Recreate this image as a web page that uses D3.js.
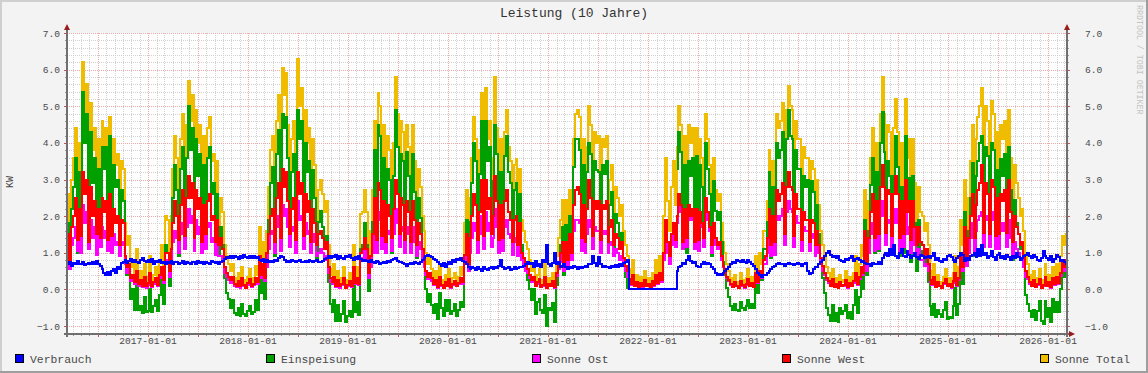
<!DOCTYPE html>
<html><head><meta charset="utf-8">
<script src="https://cdn.jsdelivr.net/npm/d3@7"></script>
<style>
html,body{margin:0;padding:0;background:#f3f3f3;}
svg{display:block;}
text{font-family:"Liberation Mono","DejaVu Sans Mono",monospace;}
</style></head><body>
<svg id="chart" width="1148" height="373"></svg>
<script>
// ---------------- data ----------------
const title = "Leistung (10 Jahre)";
const yLabel = "KW";
const watermark = "RRDTOOL / TOBI OETIKER";
const seriesNames = ["Verbrauch", "Einspeisung", "Sonne Ost", "Sonne West", "Sonne Total"];
const seriesColors = ["#0000ff", "#00a000", "#ff00ff", "#ff0000", "#f0bc00"];
const startDate = "2016-03-11";
const endDate = "2026-03-11";
const stepDays = 7;
const yTickValues = [-1, 0, 1, 2, 3, 4, 5, 6, 7];
const xLabelDates = ["2017-01-01","2018-01-01","2019-01-01","2020-01-01","2021-01-01","2022-01-01","2023-01-01","2024-01-01","2025-01-01","2026-01-01"];

// weekly values (kW), one line per year starting mid-March
const verbrauch = [
0.7,0.75,0.65,0.72,0.7,0.78,0.68,0.7,0.74,0.66,0.7,0.72,0.68,0.75,0.7,0.78,0.7,0.64,0.55,0.45,0.4,0.48,0.38,0.5,0.55,0.45,0.6,0.55,0.73,0.75,0.8,0.72,0.78,0.82,0.74,0.8,0.76,0.72,0.8,0.85,0.78,0.74,0.8,0.76,0.82,0.7,0.78,0.75,0.8,0.72,0.76,0.7,
0.75,0.72,0.78,0.7,0.74,0.76,0.7,0.73,0.78,0.7,0.75,0.72,0.7,0.76,0.74,0.7,0.78,0.72,0.75,0.7,0.76,0.73,0.7,0.78,0.74,0.72,0.76,0.7,0.75,0.78,0.82,0.88,0.85,0.9,0.86,0.92,0.88,0.84,0.9,0.86,0.93,0.88,0.85,0.9,0.87,0.92,0.86,0.88,0.8,0.78,0.82,0.76,
0.8,0.76,0.78,0.75,0.8,0.77,0.85,0.9,0.88,0.8,0.76,0.78,0.75,0.8,0.77,0.74,0.78,0.8,0.76,0.75,0.78,0.74,0.8,0.77,0.75,0.78,0.8,0.76,0.74,0.78,0.82,0.85,0.9,0.86,0.92,0.88,0.95,0.84,0.9,0.86,0.82,0.9,0.88,0.93,0.85,0.8,0.88,0.84,0.9,0.82,0.78,0.8,
0.78,0.75,0.8,0.74,0.72,0.78,0.75,0.7,0.73,0.76,0.72,0.78,0.74,0.8,0.82,0.85,0.78,0.74,0.76,0.72,0.7,0.65,0.68,0.72,0.7,0.75,0.73,0.7,0.76,0.8,0.85,0.9,0.95,0.92,0.88,0.84,0.8,0.76,0.7,0.65,0.72,0.6,0.68,0.75,0.7,0.8,0.76,0.82,0.8,0.85,0.78,0.75,
0.7,0.62,0.55,0.6,0.58,0.52,0.6,0.55,0.5,0.6,0.55,0.52,0.58,0.62,0.55,0.6,0.58,0.65,0.8,0.6,0.55,0.58,0.6,0.52,0.56,0.6,0.55,0.58,0.62,0.6,0.65,0.7,0.75,0.68,0.72,0.6,0.78,0.65,0.7,0.62,0.8,0.75,1.2,0.7,0.65,0.72,1.0,0.68,0.75,0.6,0.65,0.7,
0.6,0.55,0.62,0.58,0.65,0.6,0.55,0.62,0.58,0.6,0.65,0.62,0.7,0.68,0.9,0.72,0.65,0.88,0.7,0.62,0.65,0.6,0.62,0.58,0.64,0.6,0.66,0.62,0.7,0.65,0.72,0.75,0.8,0,0,0,0,0,0,0,0,0,0,0,0,0,0,0,0,0,0,0,
0,0,0,0,0,0,0.5,0.6,0.65,0.72,0.7,0.8,0.9,0.78,0.72,0.75,0.65,0.6,0.62,0.7,0.75,0.68,0.72,0.7,0.62,0.55,0.45,0.4,0.42,0.38,0.45,0.5,0.55,0.6,0.7,0.75,0.72,0.8,0.78,0.74,0.8,0.76,0.72,0.8,0.75,0.7,0.65,0.55,0.45,0.4,0.35,0.38,
0.4,0.45,0.5,0.55,0.6,0.65,0.7,0.72,0.68,0.7,0.65,0.7,0.72,0.68,0.7,0.66,0.7,0.72,0.68,0.65,0.7,0.72,0.5,0.42,0.45,0.55,0.6,0.62,0.7,0.75,0.8,0.9,1.0,1.05,0.95,0.88,0.92,0.85,0.9,0.8,0.78,0.75,0.82,0.8,0.86,0.9,0.78,0.82,0.85,0.8,0.75,0.78,
0.72,0.68,0.7,0.65,0.72,0.7,0.68,0.74,0.7,0.85,0.95,1.0,0.9,1.1,0.95,1.2,0.9,0.85,1.0,1.1,0.92,0.88,1.05,0.95,0.85,0.9,1.0,0.88,0.82,0.95,0.9,0.85,0.88,0.92,0.85,0.9,1.0,0.8,0.85,0.78,0.75,0.82,0.8,0.9,0.95,0.88,0.8,0.76,0.85,0.9,1.0,0.95,
0.78,0.85,0.8,0.9,0.95,1.0,0.88,1.1,0.92,1.2,0.95,1.0,0.85,0.9,1.05,0.88,0.8,0.95,1.0,0.85,0.9,0.82,0.95,0.88,0.8,0.92,0.85,1.0,0.88,0.8,0.85,0.9,0.95,1.0,0.9,0.85,0.95,0.88,0.8,0.78,0.85,1.05,0.92,0.85,0.8,0.9,0.75,0.82,0.95,0.88,0.78,0.8,
0.75,0.7
];

const einspeisung = [
1.8,0.55,2.2,2.8,3.6,1.0,3.2,1.0,5.4,4.0,4.8,1.5,4.3,2.9,3.6,1.1,3.3,1.15,3.9,3.3,3.9,1.4,4.2,1.2,3.4,2.8,3.0,1.05,2.7,2.4,0.9,0.4,0.6,-0.25,0.0,-0.55,0.2,-0.55,-0.45,-0.65,-0.2,-0.62,-0.6,0.0,-0.62,-0.45,-0.3,-0.6,-0.15,0.35,-0.4,1.2,
1.0,0.1,1.1,2.5,3.4,2.7,0.9,3.3,3.9,1.4,3.6,5.0,3.8,4.4,1.45,4.1,3.1,3.7,1.15,3.4,1.25,3.6,3.9,2.6,2.9,1.0,2.6,0.9,1.7,1.2,0.3,-0.1,-0.25,-0.5,-0.3,-0.65,-0.7,-0.5,-0.73,-0.4,-0.68,-0.72,-0.6,-0.45,-0.66,-0.62,-0.3,-0.55,0.8,-0.1,0.4,-0.25,
0.7,1.9,2.9,3.35,0.9,3.7,4.35,1.1,4.8,4.4,4.7,3.6,1.75,3.2,3.7,1.25,4.9,4.1,4.6,1.55,4.0,3.2,3.5,1.15,3.25,2.5,0.8,1.85,2.15,1.7,1.2,1.45,0.2,-0.4,-0.62,-0.28,-0.85,-0.44,-0.85,-0.66,-0.32,-0.9,-0.73,-0.58,-0.75,0.3,-0.63,-0.34,-0.7,1.1,1.2,1.8,
1.2,-0.05,0.7,1.85,3.8,1.0,4.5,4.2,1.25,3.6,1.05,3.3,3.0,1.0,3.1,4.9,3.9,1.45,3.7,3.5,1.2,3.75,3.1,1.1,3.7,2.65,0.85,2.5,1.95,1.1,0.65,0.0,-0.35,-0.12,-0.43,-0.64,-0.4,-0.8,-0.1,-0.5,-0.72,-0.3,-0.58,-0.3,-0.68,-0.6,-0.41,-0.72,-0.55,-0.35,-0.48,0.95,
1.9,0.6,1.85,2.9,4.0,3.5,1.1,3.15,4.6,1.6,4.6,3.5,3.9,1.7,2.95,4.5,3.7,1.15,3.2,1.3,3.65,4.2,3.2,2.9,1.05,2.7,2.9,1.0,2.6,1.2,0.85,0.5,0.25,0.0,-0.3,0.0,-0.68,-0.35,-0.25,-0.57,-0.65,-0.15,-1.0,-0.5,-0.55,-0.37,-0.9,0.12,0.55,1.2,1.7,0.4,
1.75,0.85,2.0,1.2,3.35,4.1,4.1,3.8,1.3,3.4,1.05,3.2,4.0,3.7,1.1,3.5,3.25,3.2,1.2,3.4,3.15,3.5,1.2,2.3,2.65,1.0,2.05,1.8,1.2,1.55,0.8,0.35,0.0,null,null,null,null,null,null,null,null,null,null,null,null,null,null,null,null,null,null,null,
null,null,null,null,null,null,3.3,4.3,3.75,1.3,3.4,1.0,3.5,3.1,3.6,1.15,3.65,1.2,3.4,2.8,1.25,4.0,3.3,2.6,0.9,2.95,2.15,1.9,2.1,1.3,0.75,0.4,0.05,-0.2,-0.45,-0.55,-0.4,-0.55,-0.58,-0.35,-0.5,-0.56,-0.45,-0.3,-0.5,-0.4,-0.5,0.2,-0.1,0.5,0.25,1.1,
1.1,1.85,3.2,0.85,2.8,0.95,4.0,3.6,3.8,4.3,1.75,4.1,4.9,4.2,4.1,1.65,3.8,3.3,3.3,1.15,3.1,2.8,3.0,1.4,2.95,2.65,0.9,2.3,1.5,0.75,0.3,-0.1,-0.5,-0.7,-0.85,-0.43,-0.87,-0.65,-0.9,-0.5,-0.68,-0.6,-0.42,-0.78,-0.61,-0.8,-0.43,-0.02,-0.65,-0.2,0.35,0.0,
1.9,0.4,1.6,2.85,3.6,1.0,3.2,1.05,4.0,4.85,3.75,1.2,3.5,3.1,0.95,3.1,4.2,3.35,0.9,2.8,1.0,4.2,2.45,3.05,0.75,3.1,1.8,0.5,1.9,1.05,1.0,0.65,0.8,0.2,-0.45,-0.7,-0.4,-0.75,-0.55,-0.68,-0.75,-0.57,-0.35,-0.8,-0.75,-0.78,-0.45,0.04,-0.7,-0.4,0.8,0.15,
2.1,0.65,1.6,2.5,3.45,0.9,3.1,3.5,4.0,4.2,1.35,3.9,3.65,1.4,4.0,3.8,1.2,3.25,1.1,3.55,3.1,3.7,1.25,3.9,2.7,0.8,2.45,1.8,1.5,1.1,1.25,0.6,-0.15,-0.4,-0.6,-0.75,-0.55,-0.83,-0.6,-0.33,-0.85,-0.95,-0.32,-0.75,-0.5,-0.88,-0.25,-0.62,-0.35,-0.63,0.02,0.55,
0.35,0.7
];

const sonneOst = [
1.0,0.55,1.2,1.4,1.7,1.05,1.5,1.0,2.3,1.8,2.1,1.1,1.9,1.4,1.7,0.95,1.5,1.15,1.7,1.4,1.6,1.05,1.8,1.0,1.5,1.2,1.3,0.9,1.3,1.2,0.7,0.45,0.55,0.22,0.3,0.15,0.4,0.1,0.18,0.07,0.25,0.05,0.12,0.32,0.07,0.15,0.22,0.09,0.3,0.45,0.18,0.75,
0.8,0.35,0.8,1.3,1.6,1.4,1.0,1.5,1.8,1.1,1.7,2.2,1.8,2.0,1.05,1.9,1.5,1.7,1.0,1.6,1.1,1.7,1.8,1.3,1.4,0.95,1.3,0.9,0.9,0.8,0.45,0.35,0.25,0.18,0.25,0.1,0.07,0.16,0.05,0.22,0.09,0.04,0.13,0.2,0.07,0.11,0.24,0.15,0.65,0.3,0.5,0.22,
0.6,1.1,1.5,1.6,1.0,1.7,2.0,1.05,2.3,2.0,2.2,1.7,1.15,1.6,1.7,1.0,2.4,1.9,2.0,1.1,1.8,1.5,1.6,1.0,1.5,1.3,0.9,1.0,1.1,1.0,0.8,0.9,0.45,0.2,0.15,0.28,0.07,0.2,0.05,0.12,0.24,0.04,0.1,0.18,0.07,0.5,0.14,0.24,0.12,0.85,0.85,1.1,
0.8,0.3,0.6,1.0,1.8,1.0,2.1,1.9,1.1,1.7,1.0,1.6,1.5,1.05,1.5,2.2,1.8,1.15,1.7,1.6,1.0,1.7,1.5,1.0,1.7,1.3,0.9,1.3,1.1,0.8,0.6,0.4,0.28,0.35,0.22,0.12,0.2,0.05,0.28,0.1,0.04,0.16,0.08,0.22,0.05,0.12,0.18,0.08,0.14,0.24,0.16,0.7,
1.1,0.5,1.0,1.4,1.8,1.6,1.0,1.5,2.0,1.1,2.1,1.6,1.8,1.15,1.4,2.2,1.7,1.0,1.6,1.05,1.7,1.9,1.5,1.4,0.95,1.3,1.4,0.9,1.3,0.8,0.65,0.5,0.45,0.32,0.2,0.28,0.08,0.16,0.22,0.06,0.1,0.28,0.04,0.12,0.08,0.18,0.05,0.36,0.55,0.75,1.0,0.5,
1.0,0.6,1.1,0.8,1.6,1.9,1.9,1.8,1.05,1.6,1.0,1.5,1.9,1.7,1.1,1.7,1.6,1.6,1.0,1.6,1.5,1.6,1.0,1.2,1.3,0.9,1.1,1.0,0.8,0.9,0.65,0.5,0.35,0.2,0.12,0.32,0.08,0.16,0.04,0.14,0.06,0.2,0.08,0.12,0.05,0.18,0.1,0.32,0.14,0.36,0.2,0.8,
1.5,1.0,0.7,1.2,1.6,1.15,1.8,2.3,2.1,1.1,1.9,1.15,2.1,1.9,2.0,1.1,2.0,1.05,1.9,1.7,1.15,2.2,1.9,1.6,1.0,1.7,1.2,1.1,1.2,0.8,0.6,0.45,0.3,0.22,0.13,0.06,0.18,0.08,0.04,0.2,0.1,0.05,0.13,0.24,0.08,0.15,0.06,0.4,0.18,0.45,0.3,0.7,
0.7,1.0,1.6,0.9,1.5,0.95,2.0,1.9,2.0,2.2,1.2,2.1,2.4,2.2,2.1,1.15,2.0,1.8,1.8,1.05,1.7,1.6,1.6,1.05,1.5,1.4,0.9,1.3,1.0,0.7,0.5,0.4,0.25,0.18,0.08,0.22,0.06,0.12,0.04,0.16,0.08,0.1,0.2,0.05,0.14,0.08,0.18,0.36,0.12,0.28,0.5,0.38,
1.1,0.5,1.0,1.5,1.8,1.05,1.7,1.1,2.0,2.4,2.0,1.2,1.9,1.8,1.1,1.8,2.2,1.8,1.05,1.7,1.15,2.2,1.5,1.7,1.0,1.7,1.2,0.9,1.1,0.8,0.8,0.65,0.7,0.5,0.2,0.12,0.28,0.06,0.16,0.08,0.04,0.14,0.22,0.08,0.12,0.05,0.18,0.36,0.1,0.25,0.8,0.5,
1.2,0.65,1.0,1.4,1.8,1.05,1.6,1.9,2.0,2.1,1.15,2.0,1.9,1.15,2.1,1.9,1.1,1.7,1.1,1.8,1.6,1.8,1.15,1.9,1.4,0.95,1.3,1.1,1.0,0.8,0.85,0.6,0.35,0.28,0.16,0.08,0.2,0.06,0.12,0.22,0.04,0.1,0.28,0.08,0.16,0.05,0.24,0.12,0.28,0.14,0.36,0.6,
0.5,0.6
];

const sonneWest = [
1.5,0.8,1.7,2.0,2.5,1.35,2.2,1.45,3.2,2.6,3.0,1.3,2.8,2.0,2.4,1.5,2.2,1.4,2.5,2.1,2.4,1.35,2.6,1.45,2.2,1.8,2.0,1.2,1.9,1.8,0.9,0.6,0.7,0.3,0.4,0.2,0.5,0.15,0.25,0.1,0.35,0.08,0.18,0.45,0.1,0.2,0.3,0.12,0.4,0.6,0.25,1.0,
1.0,0.5,1.1,1.8,2.4,2.0,1.35,2.3,2.7,1.45,2.5,3.1,2.5,2.9,1.4,2.7,2.2,2.5,1.3,2.3,1.5,2.4,2.6,1.9,2.0,1.3,1.9,1.2,1.4,1.1,0.6,0.45,0.35,0.25,0.35,0.15,0.1,0.22,0.08,0.3,0.12,0.05,0.18,0.28,0.1,0.15,0.32,0.2,0.9,0.4,0.7,0.3,
1.0,1.5,2.0,2.2,1.3,2.5,2.9,1.4,3.3,2.8,3.2,2.4,1.5,2.2,2.5,1.35,3.2,2.6,2.9,1.45,2.6,2.1,2.4,1.3,2.2,1.8,1.2,1.5,1.6,1.4,1.1,1.3,0.6,0.3,0.2,0.35,0.1,0.25,0.08,0.15,0.3,0.05,0.12,0.22,0.1,0.6,0.18,0.3,0.15,1.0,1.1,1.4,
1.1,0.45,0.9,1.5,2.5,1.35,2.9,2.7,1.45,2.4,1.3,2.3,2.0,1.4,2.2,3.0,2.6,1.5,2.5,2.3,1.35,2.4,2.1,1.3,2.4,1.9,1.2,1.8,1.5,1.1,0.85,0.5,0.35,0.45,0.3,0.15,0.25,0.07,0.35,0.12,0.05,0.2,0.1,0.28,0.06,0.15,0.22,0.1,0.18,0.3,0.2,0.95,
1.5,0.7,1.4,2.0,2.6,2.3,1.35,2.1,3.0,1.45,3.0,2.2,2.5,1.5,2.0,3.1,2.4,1.35,2.3,1.4,2.4,2.7,2.1,1.9,1.3,1.9,2.0,1.2,1.8,1.0,0.85,0.7,0.55,0.4,0.25,0.35,0.1,0.2,0.28,0.07,0.12,0.35,0.05,0.15,0.1,0.22,0.06,0.45,0.7,1.0,1.3,0.6,
1.3,0.8,1.5,1.0,2.3,2.7,2.8,2.6,1.4,2.3,1.3,2.2,3.0,2.5,1.45,2.4,2.2,2.4,1.35,2.3,2.2,2.4,1.3,1.7,1.9,1.2,1.5,1.4,1.1,1.3,0.85,0.65,0.5,0.28,0.15,0.4,0.1,0.2,0.05,0.18,0.08,0.25,0.1,0.15,0.06,0.22,0.12,0.4,0.18,0.45,0.25,1.0,
1.9,1.3,0.9,1.5,1.8,1.35,2.0,2.6,2.3,1.3,2.2,1.4,2.3,2.0,2.2,1.3,2.2,1.35,2.1,1.8,1.4,2.5,2.1,1.7,1.2,1.8,1.4,1.2,1.3,0.9,0.65,0.5,0.35,0.25,0.15,0.07,0.2,0.1,0.05,0.22,0.12,0.06,0.15,0.28,0.1,0.18,0.07,0.45,0.2,0.5,0.35,0.8,
0.9,1.4,2.2,1.2,2.0,1.3,2.7,2.4,2.6,2.9,1.5,2.8,3.2,2.8,2.7,1.45,2.6,2.2,2.2,1.35,2.1,1.9,1.9,1.3,1.9,1.8,1.2,1.6,1.2,0.85,0.65,0.45,0.3,0.22,0.1,0.28,0.07,0.15,0.05,0.2,0.1,0.12,0.25,0.06,0.18,0.1,0.22,0.45,0.15,0.35,0.6,0.45,
1.6,0.7,1.4,2.1,2.6,1.4,2.4,1.5,2.8,3.4,2.8,1.55,2.7,2.6,1.45,2.6,3.1,2.6,1.4,2.4,1.5,3.0,2.1,2.4,1.35,2.4,1.7,1.2,1.7,1.3,1.2,0.95,1.1,0.7,0.25,0.15,0.35,0.07,0.2,0.1,0.05,0.18,0.28,0.1,0.15,0.06,0.22,0.45,0.12,0.3,1.0,0.6,
1.7,0.9,1.4,2.0,2.6,1.4,2.3,2.7,2.9,3.4,1.55,2.9,2.6,1.5,3.0,2.8,1.45,2.5,1.5,2.6,2.4,2.7,1.55,3.0,2.1,1.3,2.0,1.7,1.5,1.2,1.3,0.95,0.5,0.35,0.2,0.1,0.25,0.07,0.15,0.28,0.05,0.12,0.35,0.1,0.2,0.06,0.3,0.15,0.35,0.18,0.45,0.75,
0.6,0.8
];

const sonneTotal = [
2.6,1.4,3.0,3.6,4.4,1.9,4.0,1.8,6.2,4.8,5.6,2.3,5.1,3.8,4.4,2.0,4.1,1.9,4.6,3.9,4.4,2.0,4.7,1.8,4.1,3.4,3.7,1.7,3.5,3.3,1.8,1.2,1.45,0.6,0.8,0.4,1.1,0.3,0.5,0.2,0.7,0.15,0.35,0.9,0.2,0.4,0.6,0.25,0.8,1.2,0.5,2.0,
1.9,0.9,2.0,3.3,4.2,3.6,1.7,4.1,4.8,2.2,4.5,5.7,4.6,5.3,2.3,4.9,4.0,4.5,2.0,4.2,2.1,4.4,4.7,3.5,3.7,1.8,3.5,1.7,2.5,2.1,1.2,0.9,0.7,0.5,0.7,0.3,0.2,0.45,0.15,0.6,0.25,0.1,0.35,0.55,0.2,0.3,0.65,0.4,1.7,0.8,1.3,0.6,
1.6,2.8,3.8,4.2,1.8,4.6,5.3,2.1,6.05,5.3,5.9,4.5,2.6,4.1,4.6,2.1,6.3,5.0,5.5,2.4,4.9,4.0,4.4,2.0,4.1,3.4,1.7,2.7,3.0,2.6,2.1,2.4,1.2,0.55,0.4,0.7,0.2,0.5,0.15,0.3,0.6,0.1,0.25,0.45,0.2,1.2,0.35,0.6,0.3,2.05,2.1,2.7,
2.1,0.8,1.6,2.7,4.6,1.9,5.35,5.0,2.1,4.5,1.9,4.2,3.8,1.9,4.0,5.8,4.8,2.3,4.6,4.3,2.0,4.5,3.9,1.9,4.5,3.5,1.7,3.3,2.8,2.0,1.6,1.0,0.7,0.9,0.55,0.3,0.5,0.15,0.7,0.25,0.1,0.4,0.2,0.55,0.12,0.3,0.45,0.2,0.35,0.6,0.4,1.8,
2.7,1.3,2.5,3.6,4.7,4.1,1.8,3.8,5.35,2.3,5.5,4.1,4.6,2.4,3.6,5.8,4.4,1.9,4.1,2.0,4.3,4.9,3.9,3.5,1.7,3.4,3.55,1.7,3.3,1.9,1.6,1.3,1.1,0.8,0.5,0.7,0.2,0.4,0.55,0.15,0.25,0.7,0.1,0.3,0.2,0.45,0.12,0.9,1.4,1.9,2.45,1.2,
2.45,1.5,2.7,1.9,4.1,4.8,4.9,4.7,2.0,4.1,1.8,3.9,5.0,4.5,2.1,4.3,4.0,4.2,2.0,4.1,3.9,4.2,1.9,3.0,3.4,1.7,2.8,2.5,2.0,2.3,1.6,1.2,0.9,0.55,0.3,0.8,0.2,0.4,0.1,0.35,0.15,0.5,0.2,0.3,0.12,0.45,0.25,0.8,0.35,0.9,0.5,2.0,
3.6,2.4,1.6,2.8,3.5,2.3,3.9,5.0,4.5,2.1,4.2,1.9,4.5,4.0,4.4,2.0,4.4,1.9,4.1,3.6,2.1,4.8,4.1,3.4,1.6,3.6,2.7,2.4,2.6,1.8,1.3,1.0,0.7,0.5,0.3,0.15,0.4,0.2,0.1,0.45,0.25,0.12,0.3,0.55,0.2,0.35,0.15,0.9,0.4,1.0,0.7,1.6,
1.6,2.4,3.8,1.5,3.5,1.7,4.8,4.4,4.6,5.1,2.5,4.9,5.55,5.0,4.9,2.4,4.6,4.1,4.1,1.9,3.9,3.6,3.6,1.9,3.5,3.3,1.6,3.0,2.3,1.6,1.2,0.9,0.6,0.45,0.2,0.55,0.15,0.3,0.1,0.4,0.2,0.25,0.5,0.12,0.35,0.2,0.45,0.9,0.3,0.7,1.2,0.9,
2.7,1.2,2.4,3.6,4.4,1.8,4.0,1.9,4.8,5.8,4.8,2.3,4.5,4.3,2.0,4.4,5.2,4.3,2.0,4.0,2.0,5.2,3.6,4.1,1.7,4.1,2.9,1.5,2.8,2.1,2.0,1.6,1.8,1.2,0.5,0.3,0.7,0.15,0.4,0.2,0.1,0.35,0.55,0.2,0.3,0.12,0.45,0.9,0.25,0.6,1.9,1.2,
3.0,1.6,2.5,3.5,4.5,2.0,4.1,4.7,5.0,5.5,2.4,5.0,4.6,2.4,5.15,4.8,2.1,4.3,2.2,4.5,4.1,4.6,2.3,4.9,3.6,1.8,3.4,2.9,2.5,2.0,2.2,1.6,0.9,0.7,0.4,0.2,0.5,0.15,0.3,0.55,0.1,0.25,0.7,0.2,0.4,0.12,0.6,0.3,0.7,0.35,0.9,1.45,
1.2,1.5
];

// ---------------- drawing ----------------
const W = 1148, H = 373;
const L = 67, R = 1067, T = 33, B = 334;
const svg = d3.select("#chart");
const parse = d3.utcParse("%Y-%m-%d");
const t0 = parse(startDate), t1 = parse(endDate);

const x = d3.scaleUtc().domain([t0, t1]).range([L, R]);
const y = d3.scaleLinear().domain([-1, 7]).range([326, 33]);

// background + frame
svg.append("rect").attr("width", W).attr("height", H).attr("fill", "#f3f3f3");
svg.append("rect").attr("x", 0).attr("y", 0).attr("width", W).attr("height", 2).attr("fill", "#cfcfcf");
svg.append("rect").attr("x", 0).attr("y", 0).attr("width", 2).attr("height", H).attr("fill", "#cfcfcf");
svg.append("rect").attr("x", 0).attr("y", H - 2).attr("width", W).attr("height", 2).attr("fill", "#9e9e9e");
svg.append("rect").attr("x", W - 2).attr("y", 0).attr("width", 2).attr("height", H).attr("fill", "#9e9e9e");

// plot area
svg.append("rect").attr("x", L).attr("y", T).attr("width", R - L).attr("height", B - T).attr("fill", "#ffffff");

const grid = svg.append("g").attr("shape-rendering", "crispEdges");
const minorCol = "#d2d2d2", majorCol = "#eba9a9";

// horizontal minor grid every 0.2
const hMinor = d3.range(-6, 36).map(k => k / 5).filter(v => Math.abs(v - Math.round(v)) > 1e-6 && y(v) < B);
hMinor.forEach(v => {
  const yy = Math.round(y(v)) + 0.5;
  grid.append("line").attr("x1", L).attr("x2", R).attr("y1", yy).attr("y2", yy)
    .attr("stroke", minorCol).attr("stroke-dasharray", "1,1");
  grid.append("line").attr("x1", L - 2).attr("x2", L).attr("y1", yy).attr("y2", yy).attr("stroke", "#999");
  grid.append("line").attr("x1", R).attr("x2", R + 2).attr("y1", yy).attr("y2", yy).attr("stroke", "#999");
});
// vertical minor grid monthly
const months = d3.utcMonth.range(d3.utcMonth.ceil(t0), t1);
months.forEach(d => {
  const m = d.getUTCMonth();
  if (m === 0 || m === 6) return;
  const xx = Math.round(x(d)) + 0.5;
  grid.append("line").attr("x1", xx).attr("x2", xx).attr("y1", T).attr("y2", B)
    .attr("stroke", minorCol).attr("stroke-dasharray", "1,1");
  grid.append("line").attr("x1", xx).attr("x2", xx).attr("y1", B).attr("y2", B + 2).attr("stroke", "#999");
});
// major grids
yTickValues.forEach(v => {
  const yy = Math.round(y(v)) + 0.5;
  grid.append("line").attr("x1", L).attr("x2", R).attr("y1", yy).attr("y2", yy)
    .attr("stroke", majorCol).attr("stroke-dasharray", "1,1");
  grid.append("line").attr("x1", L - 3).attr("x2", L).attr("y1", yy).attr("y2", yy).attr("stroke", "#d05050");
  grid.append("line").attr("x1", R).attr("x2", R + 3).attr("y1", yy).attr("y2", yy).attr("stroke", "#d05050");
});
months.filter(d => d.getUTCMonth() === 0 || d.getUTCMonth() === 6).forEach(d => {
  const xx = Math.round(x(d)) + 0.5;
  grid.append("line").attr("x1", xx).attr("x2", xx).attr("y1", T).attr("y2", B)
    .attr("stroke", majorCol).attr("stroke-dasharray", "1,1");
  grid.append("line").attr("x1", xx).attr("x2", xx).attr("y1", B - 1).attr("y2", B + 3).attr("stroke", "#d05050");
});

// data series
const n = sonneTotal.length;
const dates = d3.range(n).map(i => d3.utcDay.offset(t0, i * stepDays));
const seriesData = [verbrauch, einspeisung, sonneOst, sonneWest, sonneTotal];
const lens = seriesData.map(a => a.length);
if (new Set(lens).size !== 1) {
  svg.append("text").attr("x", 200).attr("y", 120).attr("fill", "black").attr("font-size", 20).text("LENGTH MISMATCH " + lens.join(","));
}
svg.append("defs").append("clipPath").attr("id", "clip")
  .append("rect").attr("x", L).attr("y", T - 5).attr("width", R - L).attr("height", B - T + 5);

const lineGen = d3.line()
  .defined(d => d.v !== null && d.v !== undefined)
  .x(d => x(d.t)).y(d => y(d.v))
  .curve(d3.curveStepAfter);

// painting order: Total, Einspeisung, Ost, West, Verbrauch (top)
const drawOrder = [4, 1, 2, 3, 0];
const gLines = svg.append("g").attr("clip-path", "url(#clip)");
drawOrder.forEach(si => {
  const pts = seriesData[si].map((v, i) => ({ t: dates[i], v: v }));
  pts.push({ t: t1, v: seriesData[si][n - 1] });
  gLines.append("path").datum(pts)
    .attr("d", lineGen)
    .attr("fill", "none")
    .attr("stroke", seriesColors[si])
    .attr("stroke-width", 2)
    .attr("shape-rendering", "crispEdges");
});

// axes
const axisCol = "#6f6f6f", arrowCol = "#9a1c1c";
const ax = svg.append("g").attr("shape-rendering", "crispEdges");
ax.append("line").attr("x1", L).attr("x2", L).attr("y1", T - 5).attr("y2", B + 3).attr("stroke", axisCol).attr("stroke-width", 2);
ax.append("line").attr("x1", R).attr("x2", R).attr("y1", T - 5).attr("y2", B + 3).attr("stroke", axisCol).attr("stroke-width", 2);
ax.append("line").attr("x1", L - 3).attr("x2", R + 3).attr("y1", B).attr("y2", B).attr("stroke", axisCol).attr("stroke-width", 2);
svg.append("path").attr("d", `M${L - 3},${T - 3} L${L},${T - 9} L${L + 3},${T - 3} Z`).attr("fill", arrowCol);
svg.append("path").attr("d", `M${R - 3},${T - 3} L${R},${T - 9} L${R + 3},${T - 3} Z`).attr("fill", arrowCol);
svg.append("path").attr("d", `M${R + 2},${B - 3} L${R + 8},${B} L${R + 2},${B + 3} Z`).attr("fill", arrowCol);

// tick labels
const txtCol = "#4a4a4a";
yTickValues.forEach(v => {
  svg.append("text").attr("x", 60).attr("y", y(v) + 3.5).attr("text-anchor", "end")
    .attr("font-size", 9.6).attr("fill", txtCol).text(d3.format(".1f")(v));
  svg.append("text").attr("x", 1085).attr("y", y(v) + 3.5).attr("text-anchor", "start")
    .attr("font-size", 9.6).attr("fill", txtCol).text(d3.format(".1f")(v));
});
xLabelDates.forEach(s => {
  svg.append("text").attr("x", x(parse(s))).attr("y", 344).attr("text-anchor", "middle")
    .attr("font-size", 9.6).attr("fill", txtCol).text(s);
});

// title, axis label, watermark
svg.append("text").attr("x", 574).attr("y", 17).attr("text-anchor", "middle")
  .attr("font-size", 13).attr("fill", "#333").text(title);
svg.append("text").attr("transform", "translate(13,182) rotate(-90)").attr("text-anchor", "middle")
  .attr("font-size", 10).attr("fill", txtCol).text(yLabel);
svg.append("text").attr("transform", "translate(1137,5) rotate(90)").attr("text-anchor", "start")
  .attr("font-size", 8.3).attr("fill", "#c4c4c4").text(watermark);

// legend
const legendX = [15, 266, 532, 782, 1040];
seriesNames.forEach((name, i) => {
  svg.append("rect").attr("x", legendX[i] + 0.5).attr("y", 354.5).attr("width", 8).attr("height", 8)
    .attr("fill", seriesColors[i]).attr("stroke", "#000").attr("stroke-width", 1)
    .attr("shape-rendering", "crispEdges");
  svg.append("text").attr("x", legendX[i] + 15).attr("y", 362.5)
    .attr("font-size", 11.4).attr("fill", txtCol).text(name);
});
</script>
</body></html>
